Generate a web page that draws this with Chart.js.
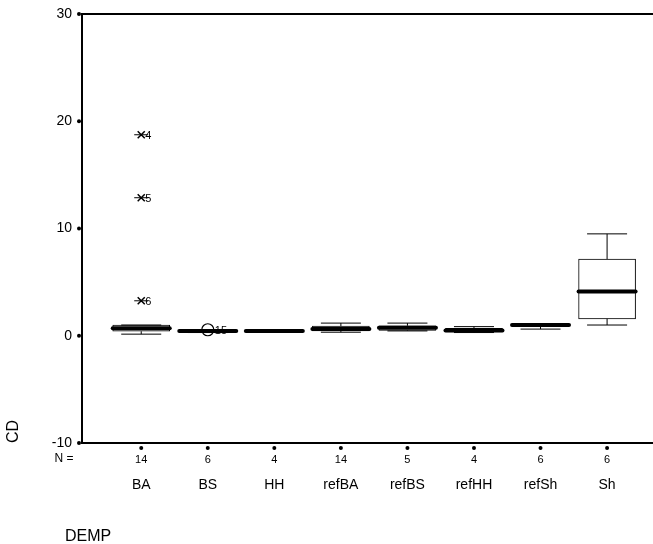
<!DOCTYPE html>
<html>
<head>
<meta charset="utf-8">
<script src="https://cdn.jsdelivr.net/npm/chart.js@4/dist/chart.umd.min.js"></script>
<style>
  body { margin: 0; background: #fff; }
  #wrap { width: 653px; height: 544px; }
</style>
</head>
<body>
<div id="wrap"><canvas id="boxChart"></canvas></div>
<script>
// categories (DEMP) and their N
const categories = ['BA', 'BS', 'HH', 'refBA', 'refBS', 'refHH', 'refSh', 'Sh'];
const counts = [14, 6, 4, 14, 5, 4, 6, 6];

// box plot values per category
const whiskerLow = [0.15, 0.30, 0.35, 0.33, 0.45, 0.30, 0.62, 1.00];
const quart1 = [0.42, 0.35, 0.40, 0.45, 0.50, 0.35, 0.90, 1.58];
const medians = [0.70, 0.45, 0.45, 0.62, 0.75, 0.50, 1.00, 4.13];
const quart3 = [1.00, 0.55, 0.50, 0.90, 0.93, 0.70, 1.08, 7.15];
const whiskerHigh = [1.00, 0.55, 0.50, 1.18, 1.18, 0.85, 1.10, 9.50];

// extreme values (*) and outliers (o)
const extremeCat = [0, 0, 0];
const extremeVal = [18.74, 12.87, 3.26];
const extremeLbl = ['4', '5', '6'];
const outlierCat = [1];
const outlierVal = [0.56];
const outlierLbl = ['15'];

const yTicks = [-10, 0, 10, 20, 30];

const FONT = '"Liberation Sans", Arial, sans-serif';

// whiskers, medians, tick dots and extra texts
const boxPlugin = {
    id: 'boxExtras',
    afterDatasetsDraw(chart) {
        const ctx = chart.ctx;
        const x = chart.scales.x;
        const y = chart.scales.y;
        const area = chart.chartArea;
        ctx.save();
        ctx.strokeStyle = '#000';
        ctx.fillStyle = '#000';

        // top frame line
        ctx.lineWidth = 2;
        ctx.beginPath();
        ctx.moveTo(area.left, area.top);
        ctx.lineTo(area.right, area.top);
        ctx.stroke();

        const half = 28.5, capHalf = 20;
        for (let i = 0; i < categories.length; i++) {
            const cx = x.getPixelForValue(i);
            // whiskers
            ctx.lineWidth = 1;
            ctx.beginPath();
            ctx.moveTo(cx, y.getPixelForValue(quart3[i]));
            ctx.lineTo(cx, y.getPixelForValue(whiskerHigh[i]));
            ctx.moveTo(cx, y.getPixelForValue(quart1[i]));
            ctx.lineTo(cx, y.getPixelForValue(whiskerLow[i]));
            ctx.moveTo(cx - capHalf, y.getPixelForValue(whiskerHigh[i]));
            ctx.lineTo(cx + capHalf, y.getPixelForValue(whiskerHigh[i]));
            ctx.moveTo(cx - capHalf, y.getPixelForValue(whiskerLow[i]));
            ctx.lineTo(cx + capHalf, y.getPixelForValue(whiskerLow[i]));
            ctx.stroke();
            // median
            ctx.lineWidth = 4;
            ctx.lineCap = 'round';
            ctx.beginPath();
            ctx.moveTo(cx - half, y.getPixelForValue(medians[i]));
            ctx.lineTo(cx + half, y.getPixelForValue(medians[i]));
            ctx.stroke();
            ctx.lineCap = 'butt';
            // x tick dot
            ctx.beginPath();
            ctx.arc(cx, area.bottom + 5, 2, 0, Math.PI * 2);
            ctx.fill();
        }

        // y tick dots
        yTicks.forEach(v => {
            ctx.beginPath();
            ctx.arc(area.left - 3, y.getPixelForValue(v), 2, 0, Math.PI * 2);
            ctx.fill();
        });

        // labels next to extremes / outliers
        ctx.font = '11px ' + FONT;
        ctx.textBaseline = 'middle';
        ctx.textAlign = 'left';
        extremeVal.forEach((v, k) => {
            ctx.fillText(extremeLbl[k], x.getPixelForValue(extremeCat[k]) + 4, y.getPixelForValue(v) + 1);
        });
        outlierVal.forEach((v, k) => {
            ctx.fillText(outlierLbl[k], x.getPixelForValue(outlierCat[k]) + 7, y.getPixelForValue(v) + 1);
        });

        // N = and axis title
        ctx.font = '12px ' + FONT;
        ctx.textAlign = 'center';
        ctx.fillText('N =', 64, 459);
        ctx.font = '16px ' + FONT;
        ctx.textAlign = 'left';
        ctx.fillText('DEMP', 65, 537);
        ctx.restore();
    }
};

const ctx = document.getElementById('boxChart').getContext('2d');
const boxChart = new Chart(ctx, {
    type: 'bar',
    data: {
        datasets: [
            {
                label: 'box',
                data: categories.map((c, i) => ({ x: i, y: [quart1[i], quart3[i]] })),
                backgroundColor: '#fff',
                borderColor: '#000',
                borderWidth: 1,
                borderSkipped: false,
                barThickness: 57,
                order: 2
            },
            {
                type: 'scatter',
                label: 'extremes',
                data: extremeVal.map((v, k) => ({ x: extremeCat[k], y: v })),
                pointStyle: 'crossRot',
                radius: 5,
                borderColor: '#000',
                borderWidth: 1.5,
                order: 1
            },
            {
                type: 'scatter',
                label: 'extremes bar',
                data: extremeVal.map((v, k) => ({ x: extremeCat[k], y: v })),
                pointStyle: 'line',
                radius: 7,
                borderColor: '#000',
                borderWidth: 1,
                order: 1
            },
            {
                type: 'scatter',
                label: 'outliers',
                data: outlierVal.map((v, k) => ({ x: outlierCat[k], y: v })),
                pointStyle: 'circle',
                radius: 6,
                backgroundColor: 'rgba(0,0,0,0)',
                borderColor: '#000',
                borderWidth: 1.2,
                order: 1
            }
        ]
    },
    options: {
        responsive: true,
        maintainAspectRatio: false,
        animation: false,
        layout: { autoPadding: false, padding: { top: 14, right: 0, left: 0, bottom: 0 } },
        plugins: { legend: { display: false }, tooltip: { enabled: false } },
        scales: {
            x: {
                type: 'linear',
                position: 'bottom',
                offset: false,
                min: -0.89,
                max: 7.69,
                afterBuildTicks: s => { s.ticks = categories.map((c, i) => ({ value: i })); },
                afterFit: s => { s.height = 28; s.paddingLeft = 0; s.paddingRight = 0; },
                grid: { display: false, drawTicks: false },
                border: { display: true, color: '#000', width: 2 },
                ticks: {
                    autoSkip: false,
                    maxRotation: 0,
                    padding: 10,
                    color: '#000',
                    font: { family: FONT, size: 11 },
                    callback: v => counts[v]
                }
            },
            x2: {
                type: 'linear',
                position: 'bottom',
                offset: false,
                min: -0.89,
                max: 7.69,
                afterBuildTicks: s => { s.ticks = categories.map((c, i) => ({ value: i })); },
                afterFit: s => { s.height = 73; s.paddingLeft = 0; s.paddingRight = 0; },
                grid: { display: false, drawTicks: false },
                border: { display: false },
                ticks: {
                    autoSkip: false,
                    maxRotation: 0,
                    padding: 6,
                    color: '#000',
                    font: { family: FONT, size: 14 },
                    callback: v => categories[v]
                }
            },
            y: {
                min: -10,
                max: 30,
                afterBuildTicks: s => { s.ticks = yTicks.map(v => ({ value: v })); },
                afterFit: s => { s.width = 82; s.paddingTop = 0; s.paddingBottom = 0; },
                grid: { display: false, drawTicks: false },
                border: { display: true, color: '#000', width: 2 },
                ticks: {
                    padding: 10,
                    color: '#000',
                    font: { family: FONT, size: 14 }
                },
                title: {
                    display: true,
                    text: 'CD',
                    align: 'start',
                    color: '#000',
                    font: { family: FONT, size: 16 },
                    padding: { top: 4, bottom: 4 }
                }
            }
        }
    },
    plugins: [boxPlugin]
});
</script>
</body>
</html>
